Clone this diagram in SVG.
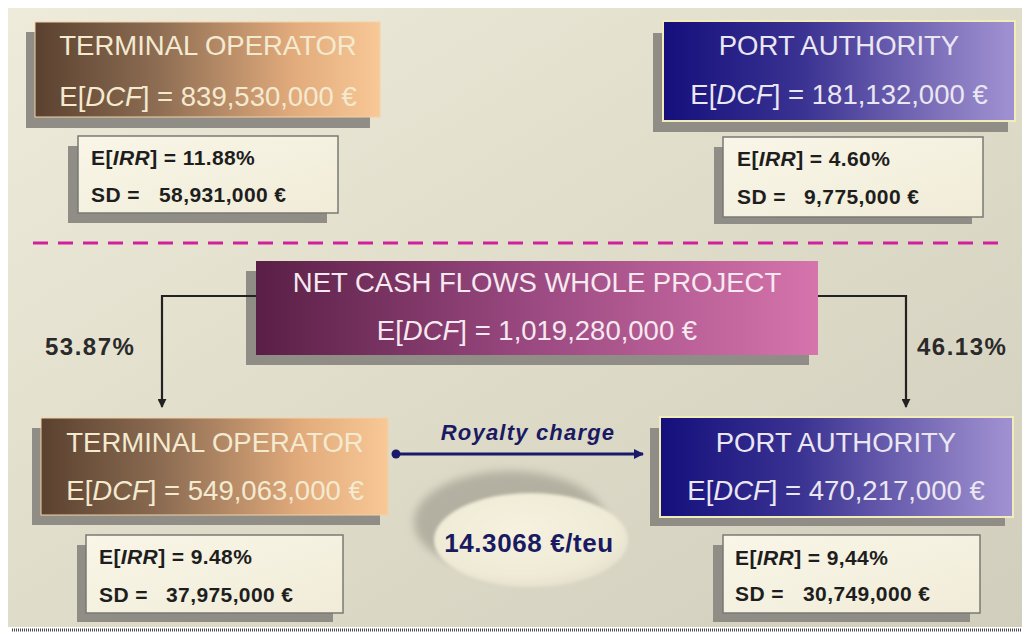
<svg xmlns="http://www.w3.org/2000/svg" width="1026" height="634" viewBox="0 0 1026 634">
  <style>
    .sans { font-family: "Liberation Sans", Arial, sans-serif; }
    .big { font-size: 27.5px; text-anchor: middle; }
    .to-text { fill: #f4ead0; }
    .pa-text { fill: #ebe7f2; }
    .net-text { fill: #f6e9ef; }
    .stat { font-size: 21px; font-weight: bold; fill: #1e1e1e; letter-spacing: 0.4px; }
    .pct { font-size: 24px; font-weight: bold; fill: #2a2a2a; letter-spacing: 1.5px; }
    .shadow { fill: #8f8d85; }
    .statbox { fill: url(#gCream); stroke: #7a7a74; stroke-width: 1.5; }
    .flow { fill: none; stroke: #222; stroke-width: 2.2; marker-end: url(#arrowDark); }
    .royal { fill: none; stroke: #1a1a6a; stroke-width: 3; marker-start: url(#dotNavy); marker-end: url(#arrowNavy); }
    .navy { fill: #1a1a62; }
  </style>
  <defs>
    <linearGradient id="gPanel" x1="0" y1="0" x2="1" y2="1">
      <stop offset="0" stop-color="#efebda"/>
      <stop offset="0.5" stop-color="#e0dcca"/>
      <stop offset="1" stop-color="#d2cebd"/>
    </linearGradient>
    <linearGradient id="gBrown" x1="0" y1="0" x2="1" y2="0">
      <stop offset="0" stop-color="#5a412f"/>
      <stop offset="0.35" stop-color="#8c6c52"/>
      <stop offset="0.75" stop-color="#e2ab7c"/>
      <stop offset="1" stop-color="#f8c896"/>
    </linearGradient>
    <linearGradient id="gNavy" x1="0" y1="0" x2="1" y2="0">
      <stop offset="0" stop-color="#140f7c"/>
      <stop offset="0.4" stop-color="#3b3392"/>
      <stop offset="0.85" stop-color="#8a7cc2"/>
      <stop offset="1" stop-color="#a092d2"/>
    </linearGradient>
    <linearGradient id="gPurple" x1="0" y1="0" x2="1" y2="0">
      <stop offset="0" stop-color="#5a1f46"/>
      <stop offset="0.5" stop-color="#9c4a82"/>
      <stop offset="1" stop-color="#d674ac"/>
    </linearGradient>
    <linearGradient id="gCream" x1="0" y1="0" x2="1" y2="1">
      <stop offset="0" stop-color="#f9f6e8"/>
      <stop offset="1" stop-color="#f1ecd8"/>
    </linearGradient>
    <radialGradient id="gDish" cx="0.45" cy="0.4" r="0.65">
      <stop offset="0" stop-color="#f6f2df"/>
      <stop offset="0.75" stop-color="#eeead6"/>
      <stop offset="1" stop-color="#e2decb"/>
    </radialGradient>
    <filter id="soft" x="-20%" y="-30%" width="140%" height="160%">
      <feGaussianBlur stdDeviation="4"/>
    </filter>
    <filter id="softer" x="-10%" y="-20%" width="120%" height="140%">
      <feGaussianBlur stdDeviation="1.5"/>
    </filter>
    <marker id="arrowDark" viewBox="0 0 10 10" refX="9" refY="5" markerUnits="userSpaceOnUse" markerWidth="9" markerHeight="9" orient="auto">
      <path d="M0,0 L10,5 L0,10 z" fill="#222"/>
    </marker>
    <marker id="arrowNavy" viewBox="0 0 10 10" refX="9" refY="5" markerUnits="userSpaceOnUse" markerWidth="11" markerHeight="10" orient="auto">
      <path d="M0,0 L10,5 L0,10 z" fill="#1a1a6a"/>
    </marker>
    <marker id="dotNavy" viewBox="0 0 10 10" refX="5" refY="5" markerUnits="userSpaceOnUse" markerWidth="10" markerHeight="10">
      <circle cx="5" cy="5" r="4.5" fill="#1a1a6a"/>
    </marker>
  </defs>

  <!-- page -->
  <rect x="0" y="0" width="1026" height="634" fill="#ffffff"/>
  <rect x="8" y="8" width="1014" height="619" fill="url(#gPanel)"/>
  <line x1="12" y1="630" x2="1022" y2="630" stroke="#4a4a48" stroke-width="3" stroke-dasharray="1 1"/>

  <!-- separator between the two scenarios -->
  <line x1="33" y1="243" x2="1005" y2="243" stroke="#d0209c" stroke-width="3" stroke-dasharray="15 10"/>

  <!-- scenario 1: terminal operator -->
  <g id="to-top">
    <rect class="shadow" x="26" y="32" width="344" height="96"/>
    <rect x="35" y="22" width="345" height="95" fill="url(#gBrown)" stroke="#f3d2a8" stroke-width="1"/>
    <text class="sans big to-text" x="208" y="55">TERMINAL OPERATOR</text>
    <text class="sans big to-text" x="208" y="106">E[<tspan font-style="italic">DCF</tspan>] = 839,530,000 €</text>
  </g>
  <g id="to-top-stats">
    <rect class="shadow" x="68" y="146" width="259" height="77"/>
    <rect class="statbox" x="78" y="136" width="260" height="77"/>
    <text class="sans stat" x="91" y="165">E[<tspan font-style="italic">IRR</tspan>] = 11.88%</text>
    <text class="sans stat" x="91" y="202">SD =<tspan x="159">58,931,000 €</tspan></text>
  </g>

  <!-- scenario 1: port authority -->
  <g id="pa-top">
    <rect class="shadow" x="653" y="33" width="355" height="99"/>
    <rect x="663" y="21" width="352" height="100" fill="url(#gNavy)" stroke="#f2ecb8" stroke-width="2"/>
    <text class="sans big pa-text" x="839" y="55">PORT AUTHORITY</text>
    <text class="sans big pa-text" x="839" y="104">E[<tspan font-style="italic">DCF</tspan>] = 181,132,000 €</text>
  </g>
  <g id="pa-top-stats">
    <rect class="shadow" x="714" y="147" width="258" height="77"/>
    <rect class="statbox" x="723" y="137" width="260" height="80"/>
    <text class="sans stat" x="737" y="166">E[<tspan font-style="italic">IRR</tspan>] = 4.60%</text>
    <text class="sans stat" x="737" y="204">SD =<tspan x="804">9,775,000 €</tspan></text>
  </g>

  <!-- scenario 2: whole project -->
  <g id="net-project">
    <rect class="shadow" x="246" y="271" width="563" height="94"/>
    <rect x="256" y="261" width="562" height="94" fill="url(#gPurple)"/>
    <text class="sans big net-text" x="537" y="292">NET CASH FLOWS WHOLE PROJECT</text>
    <text class="sans big net-text" x="537" y="340">E[<tspan font-style="italic">DCF</tspan>] = 1,019,280,000 €</text>
  </g>

  <g id="to-bottom">
    <rect class="shadow" x="32" y="428" width="348" height="97"/>
    <rect x="41" y="418" width="347" height="97" fill="url(#gBrown)" stroke="#f3d2a8" stroke-width="1"/>
    <text class="sans big to-text" x="215" y="452">TERMINAL OPERATOR</text>
    <text class="sans big to-text" x="215" y="500">E[<tspan font-style="italic">DCF</tspan>] = 549,063,000 €</text>
  </g>
  <g id="to-bottom-stats">
    <rect class="shadow" x="77" y="545" width="256" height="77"/>
    <rect class="statbox" x="86" y="535" width="257" height="78"/>
    <text class="sans stat" x="99" y="564">E[<tspan font-style="italic">IRR</tspan>] = 9.48%</text>
    <text class="sans stat" x="99" y="602">SD =<tspan x="166">37,975,000 €</tspan></text>
  </g>

  <g id="pa-bottom">
    <rect class="shadow" x="650" y="428" width="355" height="98"/>
    <rect x="660" y="417" width="353" height="100" fill="url(#gNavy)" stroke="#f2ecb8" stroke-width="2"/>
    <text class="sans big pa-text" x="836" y="452">PORT AUTHORITY</text>
    <text class="sans big pa-text" x="836" y="500">E[<tspan font-style="italic">DCF</tspan>] = 470,217,000 €</text>
  </g>
  <g id="pa-bottom-stats">
    <rect class="shadow" x="713" y="545" width="257" height="77"/>
    <rect class="statbox" x="723" y="535" width="257" height="78"/>
    <text class="sans stat" x="735" y="565">E[<tspan font-style="italic">IRR</tspan>] = 9,44%</text>
    <text class="sans stat" x="735" y="601">SD =<tspan x="803">30,749,000 €</tspan></text>
  </g>

  <!-- royalty per TEU shown as a sunken dish -->
  <g id="royalty-dish">
    <ellipse cx="510" cy="522" rx="96" ry="51" fill="#b4b0a1" filter="url(#soft)"/>
    <ellipse cx="531" cy="540" rx="97" ry="47" fill="url(#gDish)" filter="url(#softer)"/>
    <text class="sans navy" x="529" y="552" font-size="26" font-weight="bold" letter-spacing="0.6" text-anchor="middle">14.3068 €/teu</text>
  </g>

  <!-- connectors -->
  <g id="connectors">
    <path class="flow" d="M256,296 H162 V407"/>
    <path class="flow" d="M818,296 H906 V407"/>
    <path class="royal" d="M396,454 H643"/>
    <text class="sans pct" x="45" y="355">53.87%</text>
    <text class="sans pct" x="917" y="355">46.13%</text>
    <text class="sans navy" x="528" y="440" font-size="22" font-weight="bold" font-style="italic" letter-spacing="1.2" text-anchor="middle">Royalty charge</text>
  </g>
</svg>
